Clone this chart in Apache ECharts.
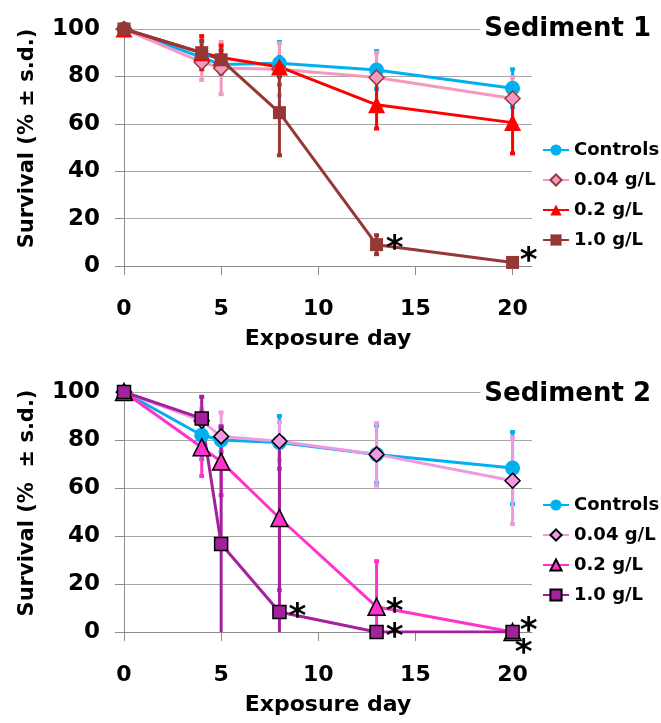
<!DOCTYPE html>
<html>
<head>
<meta charset="utf-8">
<script src="https://cdn.jsdelivr.net/npm/echarts@6/dist/echarts.min.js"></script>
<style>
  html, body { margin: 0; padding: 0; background: #fff; overflow: hidden; }
  #s1 { width: 661px; height: 363px; }
  #s2 { width: 661px; height: 360px; }
</style>
</head>
<body>
<div id="s1"></div>
<div id="s2"></div>
<script>
// exposure days
const days = [0, 4, 5, 8, 13, 20];
const xTicks = [0, 5, 10, 15, 20];

// Sediment 1 - survival % and s.d.
const s1Controls = [100, 88, 85, 85.5, 82.7, 75];
const s1ControlsSd = [0, 3, 4, 9, 8, 8];
const s1Low = [100, 86, 83.5, 83, 79.5, 70.7];
const s1LowSd = [0, 7.5, 11, 11, 10.5, 9];
const s1Mid = [100, 90, 88, 84, 68, 60.5];
const s1MidSd = [0, 7, 5, 4, 10, 13];
const s1High = [100, 90, 87, 64.7, 9, 1.5];
const s1HighSd = [0, 5, 4, 18, 4, 0.5];
// significance marks (day, value of the point they belong to)
const s1Stars = [[13, 9, 'r'], [20, 1.5, 'ur']];

// Sediment 2
const s2Controls = [100, 82, 80, 79, 74, 68.3];
const s2ControlsSd = [0, 10, 5, 11, 12, 15];
const s2Low = [100, 88, 81.5, 79.5, 74, 63];
const s2LowSd = [0, 5, 10, 8, 13, 18];
const s2Mid = [100, 77, 71, 47.5, 10.5, 0];
const s2MidSd = [0, 12, 14, 30, 19, 0];
const s2High = [100, 89, 36.7, 8.3, 0, 0];
const s2HighSd = [0, 9, 49, 72, 0, 0];
const s2Stars = [[8, 8.3, 'r'], [13, 10.5, 'r'], [13, 0, 'r'], [20, 0, 'ur'], [20, 0, 'dr']];

const labels = ['Controls', '0.04 g/L', '0.2 g/L', '1.0 g/L'];

const FONT = 'DejaVu Sans';

function pts(vals) {
  return days.map((d, i) => [d, vals[i]]);
}

function lineSeries(name, vals, color, symbol, size, fill, border) {
  return {
    name: name,
    type: 'line',
    data: pts(vals),
    symbol: symbol,
    symbolSize: size,
    showAllSymbol: true,
    lineStyle: { color: color, width: 3 },
    itemStyle: { color: fill, borderColor: border || fill, borderWidth: border ? 1.5 : 0, opacity: 1 },
    z: 3,
    animation: false,
    emphasis: { disabled: true }
  };
}

function errSeries(vals, sds, color) {
  return {
    type: 'custom',
    data: days.map((d, i) => [d, vals[i], sds[i]]),
    encode: { x: 0, y: 1 },
    silent: true,
    z: 2,
    animation: false,
    renderItem: function (params, api) {
      const x = api.value(0), v = api.value(1), e = api.value(2);
      if (!e) return;
      const top = api.coord([x, v + e]);
      const low = v - e;
      const bot = api.coord([x, Math.max(0, low)]);
      const kids = [
        { type: 'line', shape: { x1: top[0], y1: top[1], x2: bot[0], y2: bot[1] }, style: { stroke: color, lineWidth: 3 } },
        { type: 'line', shape: { x1: top[0] - 2.5, y1: top[1], x2: top[0] + 2.5, y2: top[1] }, style: { stroke: color, lineWidth: 4 } }
      ];
      if (low >= 0) {
        kids.push({ type: 'line', shape: { x1: bot[0] - 2.5, y1: bot[1], x2: bot[0] + 2.5, y2: bot[1] }, style: { stroke: color, lineWidth: 4 } });
      }
      return { type: 'group', children: kids };
    }
  };
}

// asterisks drawn as text next to their points
const starOffset = { r: [18, 6], ur: [16, 0], dr: [11, 22] };
function starSeries(stars) {
  return {
    type: 'custom',
    data: stars.map(s => [s[0], s[1]]),
    encode: { x: 0, y: 1 },
    silent: true,
    clip: false,
    z: 5,
    animation: false,
    renderItem: function (params, api) {
      const p = api.coord([api.value(0), api.value(1)]);
      const off = starOffset[stars[params.dataIndex][2]];
      return {
        type: 'text',
        x: p[0] + off[0],
        y: p[1] + off[1],
        style: {
          text: '*',
          fill: '#000',
          font: 'bold 34px "' + FONT + '"',
          align: 'center',
          verticalAlign: 'middle'
        }
      };
    }
  };
}

// day tick labels, placed under the axis through the x scale
function tickLabelSeries() {
  return {
    type: 'custom',
    data: xTicks.map(t => [t, 0]),
    encode: { x: 0, y: 1 },
    silent: true,
    clip: false,
    z: 5,
    animation: false,
    renderItem: function (params, api) {
      const p = api.coord([api.value(0), 0]);
      return {
        type: 'text',
        x: p[0],
        y: p[1] + 43,
        style: {
          text: String(api.value(0)),
          fill: '#000',
          font: 'bold 22px "' + FONT + '"',
          align: 'center',
          verticalAlign: 'middle'
        }
      };
    }
  };
}

function panelOption(titleText, yName, c, l, m, h, sds, stars, colors, borders, layout) {
  return {
    backgroundColor: '#fff',
    animation: false,
    title: {
      text: titleText,
      right: 6,
      top: layout.titleTop,
      padding: [2, 4],
      backgroundColor: '#fff',
      textStyle: { fontFamily: FONT, fontWeight: 'bold', fontSize: 26, color: '#000' }
    },
    legend: {
      orient: 'vertical',
      left: 537,
      top: layout.legendTop,
      data: labels,
      itemWidth: 26,
      itemHeight: 14,
      itemGap: 12,
      selectedMode: false,
      textStyle: { fontFamily: FONT, fontWeight: 'bold', fontSize: 18, color: '#000' }
    },
    grid: { left: 124, top: 29, width: 408, height: layout.plotHeight },
    xAxis: {
      type: 'value',
      min: 0,
      max: 21,
      name: 'Exposure day',
      nameLocation: 'middle',
      nameGap: 62,
      nameTextStyle: { fontFamily: FONT, fontWeight: 'bold', fontSize: 22, color: '#000' },
      axisLine: { onZero: false, lineStyle: { color: '#8c8c8c', width: 1 } },
      axisTick: { show: true, length: 9, customValues: xTicks, lineStyle: { color: '#8c8c8c' } },
      axisLabel: { show: false },
      splitLine: { show: false }
    },
    yAxis: {
      type: 'value',
      min: 0,
      max: 100,
      interval: 20,
      name: yName,
      nameLocation: 'middle',
      nameGap: 86,
      nameTextStyle: { fontFamily: FONT, fontWeight: 'bold', fontSize: 21, color: '#000', padding: [0, 0, 0, 18] },
      axisLine: { show: true, lineStyle: { color: '#8c8c8c', width: 1 } },
      axisTick: { show: true, length: 9, lineStyle: { color: '#8c8c8c' } },
      axisLabel: { margin: 24, fontFamily: FONT, fontWeight: 'bold', fontSize: 23, color: '#000' },
      splitLine: { show: true, lineStyle: { color: '#a6a6a6', width: 1 } }
    },
    series: [
      errSeries(c, sds[0], colors[0]),
      errSeries(l, sds[1], colors[1]),
      errSeries(m, sds[2], colors[2]),
      errSeries(h, sds[3], colors[3]),
      lineSeries(labels[0], c, colors[0], 'circle', 15, colors[0]),
      lineSeries(labels[1], l, colors[1], 'diamond', 15, colors[1], borders[1]),
      lineSeries(labels[2], m, colors[2], 'triangle', 17, colors[2], borders[2]),
      lineSeries(labels[3], h, colors[3], 'rect', 13, colors[3], borders[3]),
      starSeries(stars),
      tickLabelSeries()
    ]
  };
}

const chart1 = echarts.init(document.getElementById('s1'));
chart1.setOption(panelOption('Sediment 1', 'Survival (% ± s.d.)',
  s1Controls, s1Low, s1Mid, s1High,
  [s1ControlsSd, s1LowSd, s1MidSd, s1HighSd], s1Stars,
  ['#00b0f0', '#f49ac1', '#ff0000', '#953735'],
  [null, '#953735', null, null],
  { titleTop: 14, legendTop: 136, plotHeight: 237 }));

const chart2 = echarts.init(document.getElementById('s2'));
chart2.setOption(panelOption('Sediment 2', 'Survival (%  ± s.d.)',
  s2Controls, s2Low, s2Mid, s2High,
  [s2ControlsSd, s2LowSd, s2MidSd, s2HighSd], s2Stars,
  ['#00b0f0', '#ee99e0', '#ff33cc', '#a5209d'],
  [null, '#000', '#000', '#000'],
  { titleTop: 16, legendTop: 128, plotHeight: 240 }));
</script>
</body>
</html>
